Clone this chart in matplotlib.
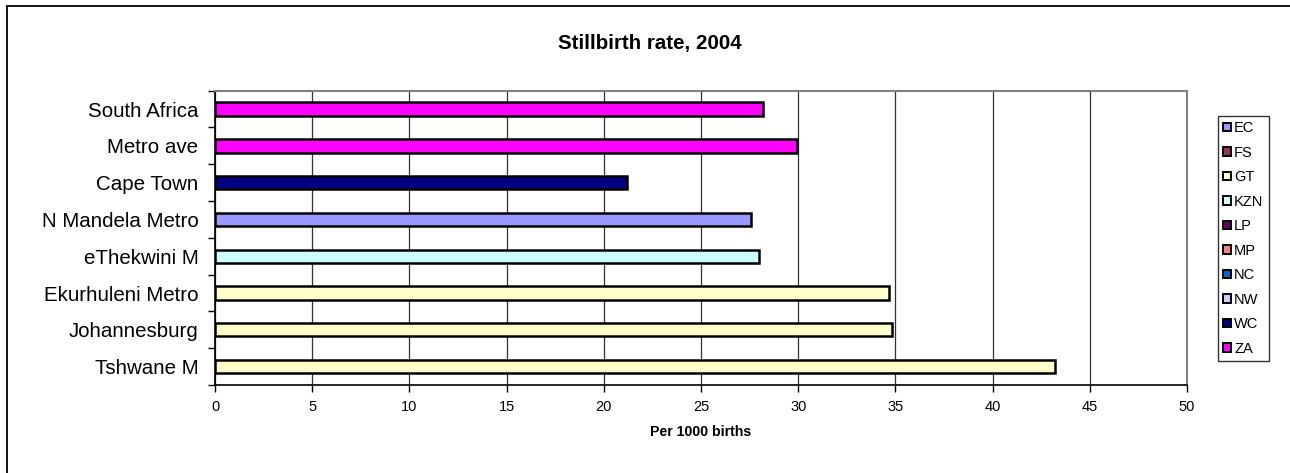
import matplotlib
matplotlib.use('Agg')
import matplotlib.pyplot as plt
from matplotlib.patches import Patch, Rectangle

plt.rcParams['font.family'] = ['Liberation Sans', 'DejaVu Sans']

# bottom to top
areas = ['Tshwane M', 'Johannesburg', 'Ekurhuleni Metro', 'eThekwini M',
         'N Mandela Metro', 'Cape Town', 'Metro ave', 'South Africa']
rates = [43.2, 34.8, 34.65, 27.98, 27.55, 21.2, 29.95, 28.17]
province = ['GT', 'GT', 'GT', 'KZN', 'EC', 'WC', 'ZA', 'ZA']

prov_names = ['EC', 'FS', 'GT', 'KZN', 'LP', 'MP', 'NC', 'NW', 'WC', 'ZA']
prov_colors = ['#9999FF', '#993366', '#FFFFCC', '#CCFFFF', '#660066',
               '#FF8080', '#0066CC', '#CCCCFF', '#000080', '#FF00FF']
cmap = dict(zip(prov_names, prov_colors))

W, H = 1290, 473
fig = plt.figure(figsize=(W/100, H/100), dpi=100)
ax = fig.add_axes([215/W, 1-385/H, (1187-215)/W, (385-90.7)/H])

ypos = range(len(areas))
ax.barh(ypos, rates, height=0.36, color=[cmap[p] for p in province],
        edgecolor='black', linewidth=1.8, zorder=3)

ax.set_xlim(0, 50)
ax.set_ylim(-0.5, len(areas)-0.5)
ax.set_xticks(range(0, 51, 5))
ax.set_yticks(list(ypos))
ax.set_yticklabels(areas, fontsize=14.8)
ax.set_yticks([i+0.5 for i in range(-1, len(areas))], minor=True)
ax.tick_params(axis='y', which='major', length=0, pad=12)
ax.tick_params(axis='y', which='minor', length=5, width=1, direction='out')
ax.tick_params(axis='x', length=5, width=1, direction='out', labelsize=10.5, pad=6)
ax.xaxis.grid(True, color='#333333', linewidth=0.9, zorder=0)

for s in ['top', 'right']:
    ax.spines[s].set_color('#808080')
    ax.spines[s].set_linewidth(1.5)
for s in ['left', 'bottom']:
    ax.spines[s].set_color('black')
    ax.spines[s].set_linewidth(1.2)

ax.set_xlabel('Per 1000 births', fontsize=10.2, fontweight='bold', labelpad=8)
fig.text(650/W, 1-43/H, 'Stillbirth rate, 2004', fontsize=14.8,
         fontweight='bold', ha='center', va='center')

handles = [Patch(facecolor=c, edgecolor='black', linewidth=1.4) for c in prov_colors]
leg = fig.legend(handles, prov_names, loc='upper left',
                 bbox_to_anchor=(1218/W, 1-116/H), borderaxespad=0,
                 fontsize=10.5, handlelength=0.55, handleheight=0.55,
                 handletextpad=0.2, labelspacing=0.72, borderpad=0.35,
                 fancybox=False, frameon=True)
leg.get_frame().set_edgecolor('black')
leg.get_frame().set_linewidth(1.0)

fig.add_artist(Rectangle((7/W, -0.1), 2, 1-6/H+0.1, transform=fig.transFigure,
                         fill=False, edgecolor='black', linewidth=1.3))

fig.savefig('out.png', dpi=100)
